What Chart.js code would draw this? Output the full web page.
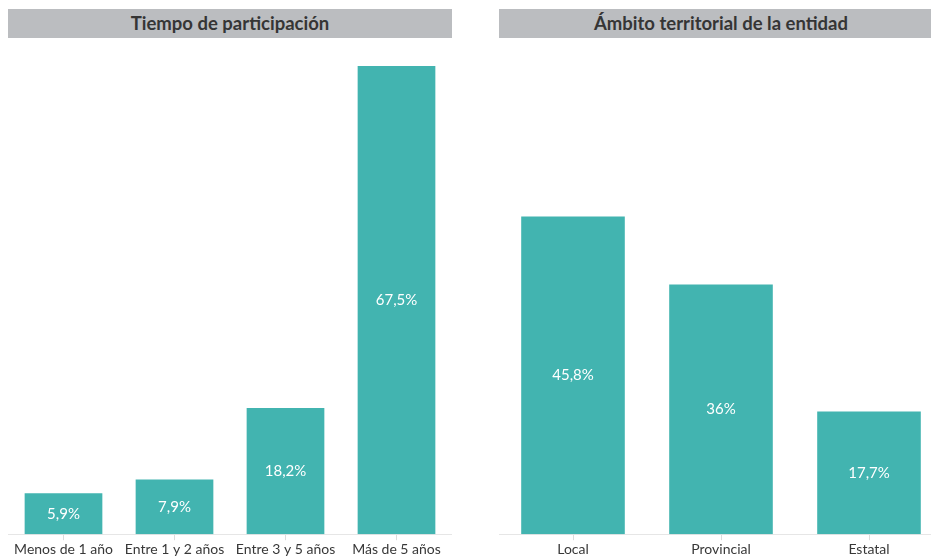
<!DOCTYPE html>
<html>
<head>
<meta charset="utf-8">
<script src="https://cdn.jsdelivr.net/npm/chart.js@4"></script>
<style>
  html, body { margin: 0; padding: 0; background: #fff; overflow: hidden; width: 931px; height: 560px; }
  .panel { position: absolute; top: 0; height: 560px; }
  .panel canvas { position: absolute; top: 0; left: 0; }
  .header {
    position: absolute; top: 9px; left: 0; height: 29px; line-height: 29px;
    padding-top: 0; box-sizing: border-box; overflow: hidden;
    background: #bbbdc0; color: #353535; text-align: center;
    font: bold 18.5px Lato, "Open Sans", sans-serif;
  }
  .header span { position: relative; top: 3px; }
</style>
</head>
<body>
<div class="panel" id="p1" style="left:8px;width:444px">
  <canvas id="c1" width="444" height="560"></canvas>
  <div class="header" style="width:444px"><span>Tiempo de participación</span></div>
</div>
<div class="panel" id="p2" style="left:499px;width:444px">
  <canvas id="c2" width="444" height="560"></canvas>
  <div class="header" style="width:444px"><span>Ámbito territorial de la entidad</span></div>
</div>
<script>
// Data
const tiempoLabels = ['Menos de 1 año', 'Entre 1 y 2 años', 'Entre 3 y 5 años', 'Más de 5 años'];
const tiempoValues = [5.9, 7.9, 18.2, 67.5];

const ambitoLabels = ['Local', 'Provincial', 'Estatal'];
const ambitoValues = [45.8, 36, 17.7];

const BAR_COLOR = '#42b4b0';

// format like "5,9%"
function fmt(v) {
    return String(v).replace('.', ',') + '%';
}

// Draw the value labels in the middle of each bar
const valueLabels = {
    id: 'valueLabels',
    afterDatasetsDraw(chart) {
        const ctx = chart.ctx;
        const meta = chart.getDatasetMeta(0);
        const data = chart.data.datasets[0].data;
        ctx.save();
        ctx.fillStyle = '#ffffff';
        ctx.font = '15px Lato, "Open Sans", sans-serif';
        ctx.textAlign = 'center';
        ctx.textBaseline = 'middle';
        meta.data.forEach((bar, i) => {
            const y = (bar.y + bar.base) / 2;
            ctx.fillText(fmt(data[i]), bar.x, y);
        });
        ctx.restore();
    }
};

function makeChart(id, labels, values) {
    const ctx = document.getElementById(id).getContext('2d');
    return new Chart(ctx, {
        type: 'bar',
        data: {
            labels: labels,
            datasets: [{
                data: values,
                backgroundColor: BAR_COLOR,
                borderWidth: 0,
                categoryPercentage: 1,
                barPercentage: 0.7
            }]
        },
        options: {
            responsive: false,
            animation: false,
            layout: {
                padding: { top: 48.6, bottom: 1, left: 0, right: 0 }
            },
            plugins: {
                legend: { display: false },
                tooltip: { enabled: false }
            },
            scales: {
                x: {
                    grid: {
                        offset: false,
                        drawOnChartArea: false,
                        drawTicks: true,
                        tickLength: 6,
                        color: '#dcdcdc'
                    },
                    border: { display: true, color: '#e6e6e6', width: 1 },
                    ticks: {
                        color: '#383838',
                        padding: 1,
                        maxRotation: 0,
                        autoSkip: false,
                        font: { size: 14, family: 'Lato, "Open Sans", sans-serif' }
                    }
                },
                y: {
                    display: false,
                    min: 0,
                    max: 70
                }
            }
        },
        plugins: [valueLabels]
    });
}

document.addEventListener('DOMContentLoaded', () => {
    makeChart('c1', tiempoLabels, tiempoValues);
    makeChart('c2', ambitoLabels, ambitoValues);
});
</script>
</body>
</html>
